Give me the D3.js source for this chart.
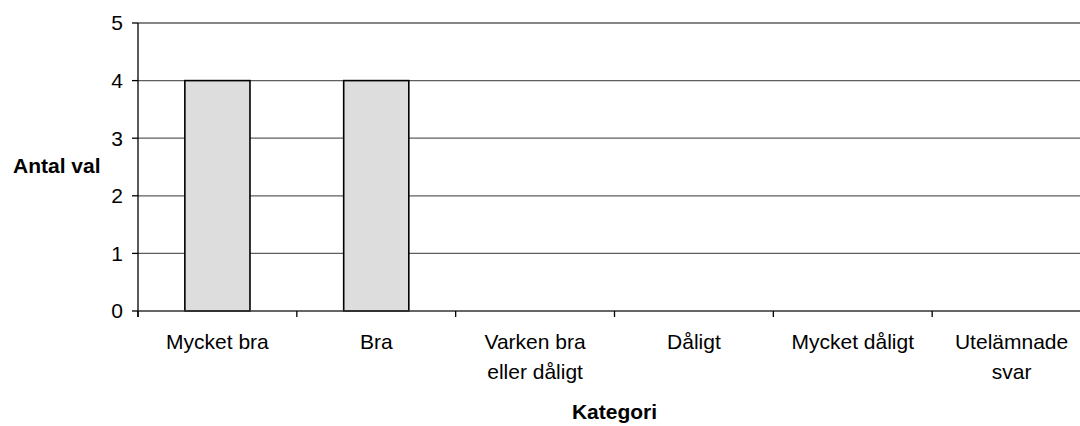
<!DOCTYPE html>
<html>
<head>
<meta charset="utf-8">
<script src="https://cdn.jsdelivr.net/npm/d3@7"></script>
<style>
  body { margin: 0; background: #fff; }
  text { font-family: "Liberation Sans", Arial, sans-serif; fill: #000; }
</style>
</head>
<body>
<div id="chart"></div>
<script>
var categories = ['Mycket bra', 'Bra', 'Varken bra eller dåligt', 'Dåligt', 'Mycket dåligt', 'Utelämnade svar'];
var values = [4, 4, 0, 0, 0, 0];
var yTicks = [0, 1, 2, 3, 4, 5];
var yTitle = 'Antal val';
var xTitle = 'Kategori';

var width = 1080, height = 426;
// note: "top" is taken by window.top, so plot* names
var plotLeft = 138, plotRight = 1091, plotTop = 23, plotBottom = 311;

var svg = d3.select('#chart').append('svg')
  .attr('width', width)
  .attr('height', height);

// bars sit in a narrow band, ticks sit on the category edges
var x = d3.scaleBand().domain(categories).range([plotLeft, plotRight])
  .paddingInner(0.59).paddingOuter(0.295);
var xEdge = d3.scaleBand().domain(categories).range([plotLeft, plotRight]);
var y = d3.scaleLinear().domain([0, 5]).range([plotBottom, plotTop]);

// gridlines
svg.selectAll('line.grid').data(yTicks.filter(function(d) { return d > 0; }))
  .enter().append('line')
    .attr('class', 'grid')
    .attr('x1', plotLeft).attr('x2', plotRight)
    .attr('y1', function(d) { return y(d); })
    .attr('y2', function(d) { return y(d); })
    .attr('stroke', '#5e5e5e')
    .attr('stroke-width', 1.3);

// bars
svg.selectAll('rect.bar').data(values)
  .enter().append('rect')
    .attr('class', 'bar')
    .attr('x', function(d, i) { return x(categories[i]); })
    .attr('y', function(d) { return y(d); })
    .attr('width', x.bandwidth())
    .attr('height', function(d) { return y(0) - y(d); })
    .attr('fill', '#dddddd')
    .attr('stroke', '#000')
    .attr('stroke-width', 1.6)
    .style('display', function(d) { return d > 0 ? null : 'none'; });

// y axis
svg.append('line')
  .attr('x1', plotLeft).attr('x2', plotLeft)
  .attr('y1', plotTop).attr('y2', plotBottom + 6)
  .attr('stroke', '#000').attr('stroke-width', 1.3);

svg.selectAll('line.ytick').data(yTicks)
  .enter().append('line')
    .attr('class', 'ytick')
    .attr('x1', plotLeft - 6).attr('x2', plotLeft)
    .attr('y1', function(d) { return y(d); })
    .attr('y2', function(d) { return y(d); })
    .attr('stroke', '#000').attr('stroke-width', 1.3);

svg.selectAll('text.ylab').data(yTicks)
  .enter().append('text')
    .attr('class', 'ylab')
    .attr('x', plotLeft - 15)
    .attr('y', function(d) { return y(d); })
    .attr('dy', '0.35em')
    .attr('text-anchor', 'end')
    .style('font-size', '21px')
    .text(function(d) { return d; });

// x axis
svg.append('line')
  .attr('x1', plotLeft).attr('x2', plotRight)
  .attr('y1', y(0)).attr('y2', y(0))
  .attr('stroke', '#333').attr('stroke-width', 1.6);

var edges = categories.map(function(c) { return xEdge(c); }).concat([plotRight]);
svg.selectAll('line.xtick').data(edges)
  .enter().append('line')
    .attr('class', 'xtick')
    .attr('x1', function(d) { return d; })
    .attr('x2', function(d) { return d; })
    .attr('y1', y(0)).attr('y2', y(0) + 6)
    .attr('stroke', '#000').attr('stroke-width', 1.3);

var labels = svg.selectAll('text.xlab').data(categories)
  .enter().append('text')
    .attr('class', 'xlab')
    .attr('text-anchor', 'middle')
    .attr('y', 349)
    .style('font-size', '21px');

// wrap long names in two lines like the original
labels.each(function(d) {
  var el = d3.select(this);
  var cx = xEdge(d) + xEdge.bandwidth() / 2;
  var words = d.split(' ');
  var lines = [], line = [];
  var probe = el.append('tspan');
  words.forEach(function(w) {
    var test = line.concat([w]).join(' ');
    probe.text(test);
    if (probe.node().getComputedTextLength() > 140 && line.length) {
      lines.push(line.join(' '));
      line = [w];
    } else {
      line.push(w);
    }
  });
  lines.push(line.join(' '));
  probe.remove();
  lines.forEach(function(t, i) {
    el.append('tspan')
      .attr('x', cx)
      .attr('dy', i ? 30 : 0)
      .text(t);
  });
});

// titles
svg.append('text')
  .attr('x', 13)
  .attr('y', 172.5)
  .style('font-size', '21px')
  .style('font-weight', 'bold')
  .text(yTitle);

svg.append('text')
  .attr('x', (plotLeft + plotRight) / 2)
  .attr('y', 419)
  .attr('text-anchor', 'middle')
  .style('font-size', '21px')
  .style('font-weight', 'bold')
  .text(xTitle);
</script>
</body>
</html>
